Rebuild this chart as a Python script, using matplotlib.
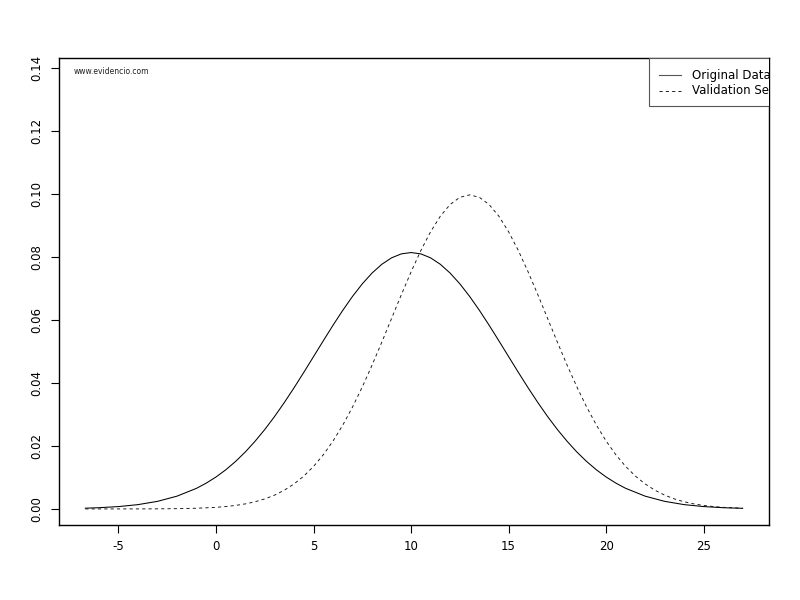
import matplotlib
matplotlib.use("Agg")
import matplotlib.pyplot as plt
from matplotlib.lines import Line2D
from matplotlib.patches import Rectangle

# Values
x_original = [-6.7, -6, -5, -4, -3, -2, -1, -0.5, 0, 0.5, 1, 1.5, 2, 2.5, 3, 3.5, 4, 4.5,
              5, 5.5, 6, 6.5, 7, 7.5, 8, 8.5, 9, 9.5, 10, 10.5, 11, 11.5, 12, 12.5, 13,
              13.5, 14, 14.5, 15, 15.5, 16, 16.5, 17, 17.5, 18, 18.5, 19, 19.5, 20, 20.5,
              21, 22, 23, 24, 25, 26, 27]
y_original = [0.00024, 0.00039, 0.00075, 0.00137, 0.00241, 0.00406, 0.00655, 0.00820,
              0.01015, 0.01243, 0.01507, 0.01808, 0.02148, 0.02523, 0.02934, 0.03378,
              0.03847, 0.04337, 0.04838, 0.05340, 0.05835, 0.06309, 0.06751, 0.07149,
              0.07491, 0.07769, 0.07974, 0.08100, 0.08142, 0.08100, 0.07974, 0.07769,
              0.07491, 0.07149, 0.06751, 0.06309, 0.05835, 0.05340, 0.04838, 0.04337,
              0.03847, 0.03378, 0.02934, 0.02523, 0.02148, 0.01808, 0.01507, 0.01243,
              0.01015, 0.00820, 0.00655, 0.00406, 0.00241, 0.00137, 0.00075, 0.00039,
              0.00020]

x_validation = [-6.7, -6, -5, -4, -3, -2, -1, 0, 0.5, 1, 1.5, 2, 2.5, 3, 3.5, 4, 4.5, 5,
                5.5, 6, 6.5, 7, 7.5, 8, 8.5, 9, 9.5, 10, 10.5, 11, 11.5, 12, 12.5, 13,
                13.5, 14, 14.5, 15, 15.5, 16, 16.5, 17, 17.5, 18, 18.5, 19, 19.5, 20,
                20.5, 21, 21.5, 22, 22.5, 23, 23.5, 24, 24.5, 25, 25.5, 26, 27]
y_validation = [0.0, 0.000001, 0.000004, 0.000012, 0.000033, 0.000088, 0.00022, 0.00051,
                0.00076, 0.00111, 0.00160, 0.00227, 0.00318, 0.00438, 0.00595, 0.00794,
                0.01043, 0.01350, 0.01720, 0.02157, 0.02664, 0.03238, 0.03876, 0.04566,
                0.05297, 0.06049, 0.06801, 0.07528, 0.08205, 0.08802, 0.09297, 0.09667,
                0.09896, 0.09974, 0.09896, 0.09667, 0.09297, 0.08802, 0.08205, 0.07528,
                0.06801, 0.06049, 0.05297, 0.04566, 0.03876, 0.03238, 0.02664, 0.02157,
                0.01720, 0.01350, 0.01043, 0.00794, 0.00595, 0.00438, 0.00318, 0.00227,
                0.00160, 0.00111, 0.00076, 0.00051, 0.00022]

x_ticks = [-5, 0, 5, 10, 15, 20, 25]
y_ticks = [0.00, 0.02, 0.04, 0.06, 0.08, 0.10, 0.12, 0.14]
legend_labels = ["Original Data", "Validation Set"]
watermark = "www.evidencio.com"

plt.rcParams['font.family'] = ['DejaVu Sans']
fig = plt.figure(figsize=(8, 6), dpi=100)
ax = fig.add_axes([0.07375, 0.125, 0.8875, 0.77833])

ax.plot(x_original, y_original, color='black', lw=0.75)
ax.plot(x_validation, y_validation, color='#111111', lw=0.65, dashes=(3.5, 3.5))

ax.set_xlim(-8.05, 28.35)
ax.set_ylim(-0.0051, 0.1432)
ax.set_xticks(x_ticks)
ax.set_xticklabels([str(t) for t in x_ticks], fontsize=8.5)
ax.set_yticks(y_ticks)
ax.set_yticklabels([f"{t:.2f}" for t in y_ticks], fontsize=8.5, rotation=90, va='center')
ax.tick_params(direction='out', length=6, width=0.8, pad=5)
for s in ax.spines.values():
    s.set_linewidth(1.0)

# watermark
ax.text(0.021, 0.971, watermark, transform=ax.transAxes, fontsize=5.5,
        ha='left', va='center', color='#222222')

# legend drawn manually so it clips at the plot edge like the reference
tr = fig.transFigure
def fx(px):
    return px / 800.0
def fy(py):
    return 1 - py / 600.0

box = Rectangle((fx(648.5), fy(106)), fx(200), fy(58) - fy(106), transform=tr,
                facecolor='white', edgecolor='#555555', lw=0.8, zorder=5)
ax.add_patch(box)
box.set_clip_path(ax.patch)
l1 = Line2D([fx(659), fx(681)], [fy(75), fy(75)], transform=tr, color='#555555', lw=0.8, zorder=6)
l2 = Line2D([fx(659), fx(681)], [fy(91), fy(91)], transform=tr, color='#111111', lw=0.65,
            dashes=(3.5, 3.5), zorder=6)
ax.add_line(l1)
ax.add_line(l2)
for lab, py in zip(legend_labels, [75, 91]):
    t = ax.text(fx(692), fy(py), lab, transform=tr, fontsize=8.5, ha='left', va='center',
                zorder=7, clip_on=True)

fig.savefig("out.png", dpi=100)
